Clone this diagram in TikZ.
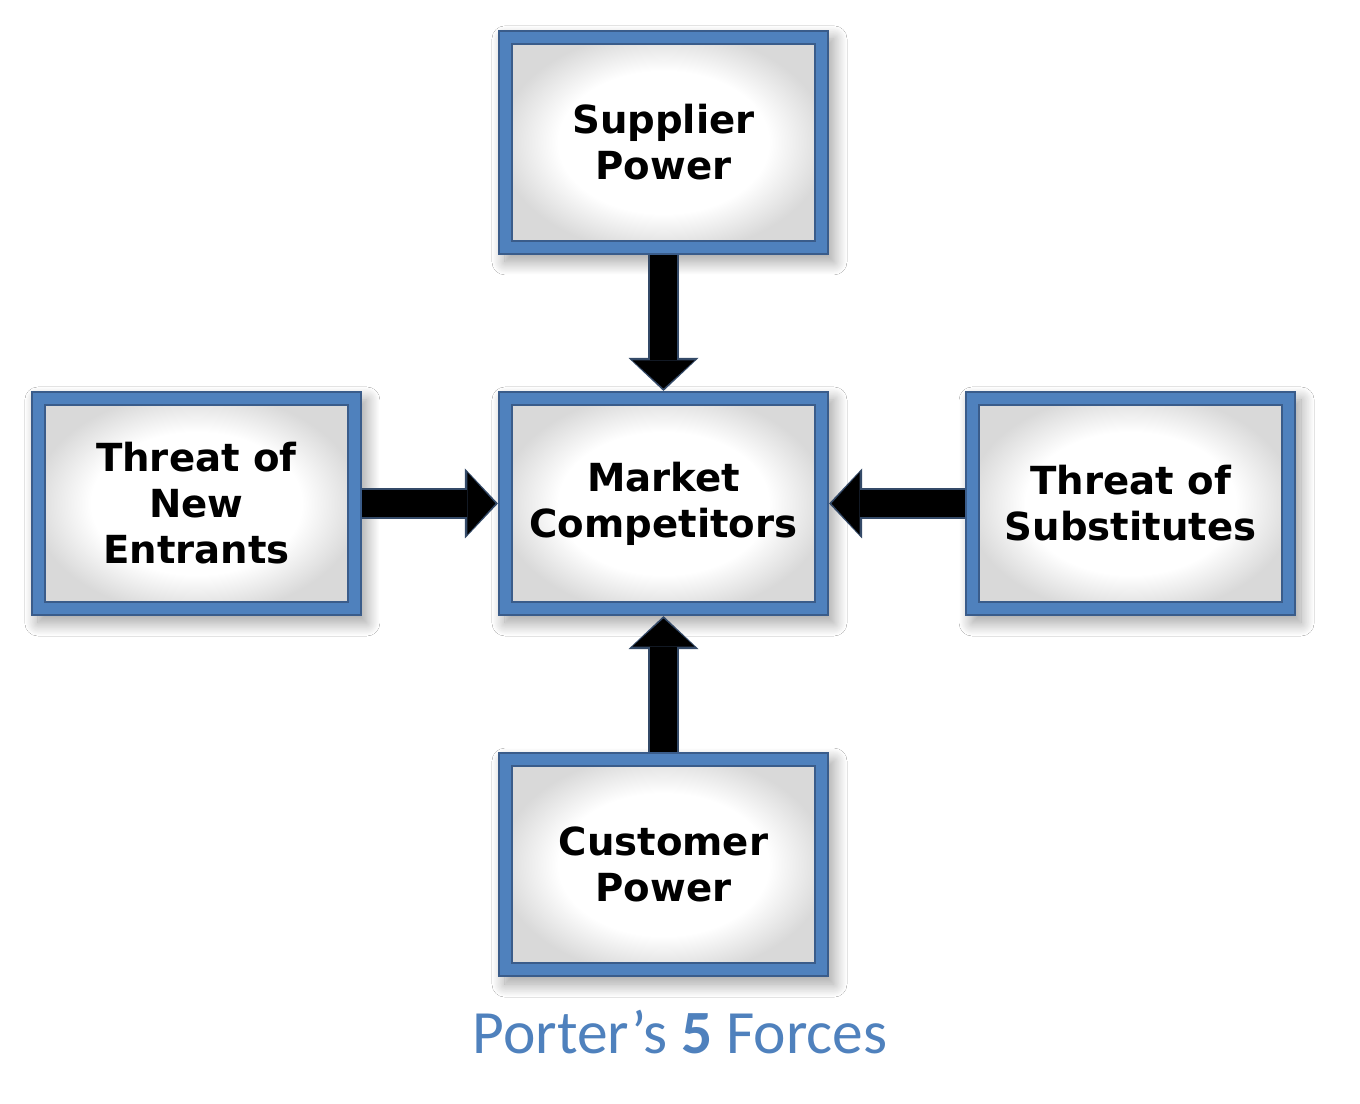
\documentclass[tikz,border=0pt]{standalone}
\usepackage{fontspec}
\setmainfont{DejaVu Sans}
\newfontfamily\titlefont{Carlito}
\usetikzlibrary{arrows.meta, positioning, calc, shadows.blur}
\definecolor{framecolor}{RGB}{79,129,189}
\definecolor{rimcolor}{RGB}{58,92,138}
\definecolor{arrowrimcolor}{RGB}{52,74,104}
\definecolor{titlecolor}{RGB}{79,129,189}
\pgfdeclareradialshading{boxglow}{\pgfpoint{0bp}{0bp}}{%
    color(0bp)=(white); color(16bp)=(white); color(25bp)=(black!15); color(50bp)=(black!15)}

\begin{document}
\begin{tikzpicture}[
    node distance=1.36cm,
    forcebox/.style={rectangle, draw=rimcolor, line width=0.6pt, fill=framecolor,
        minimum width=3.29cm, minimum height=2.23cm, inner sep=0pt,
        align=center, font=\fontsize{11}{13.1}\selectfont\bfseries,
        blur shadow={shadow xshift=0.06cm, shadow yshift=-0.08cm,
            shadow blur radius=0.13cm, shadow blur steps=20, shadow opacity=38},
        path picture={
            \shade[shading=boxglow]
                ($(path picture bounding box.south west)+(0.13cm,0.13cm)$) rectangle
                ($(path picture bounding box.north east)-(0.13cm,0.13cm)$);
            \draw[rimcolor, line width=0.6pt]
                ($(path picture bounding box.south west)+(0.13cm,0.13cm)$) rectangle
                ($(path picture bounding box.north east)-(0.13cm,0.13cm)$);
        }},
    arrowrim/.style={line width=0.31cm, arrowrimcolor,
        -{Triangle[length=0.33cm, width=0.70cm, line width=0pt]}},
    arrowcore/.style={line width=0.27cm, black, shorten >=0.025cm,
        -{Triangle[length=0.28cm, width=0.62cm, line width=0pt]}},
]

% === CANVAS ===
\fill[white] (-6.635,-5.995) rectangle (6.965,5.035);
\useasboundingbox (-6.635,-5.995) rectangle (6.965,5.035);

% === FORCES ===
\node[forcebox] (market) at (0,0) {Market\\Competitors};
\node[forcebox, above=of market] (supplier) {Supplier\\Power};
\node[forcebox, left=of market] (entrants) {Threat of\\New\\Entrants};
\node[forcebox, right=of market] (substitutes) {Threat of\\Substitutes};
\node[forcebox, below=of market] (customer) {Customer\\Power};

% === ARROWS ===
\draw[arrowrim] (supplier) -- (market);
\draw[arrowcore] (supplier) -- (market);
\draw[arrowrim] (entrants) -- (market);
\draw[arrowcore] (entrants) -- (market);
\draw[arrowrim] (substitutes) -- (market);
\draw[arrowcore] (substitutes) -- (market);
\draw[arrowrim] (customer) -- (market);
\draw[arrowcore] (customer) -- (market);

% === TITLE ===
\node[font=\titlefont\fontsize{17.5}{21}\selectfont, text=titlecolor, anchor=base]
    (title) at (0.165,-5.5) {Porter’s \textbf{5} Forces};

\end{tikzpicture}
\end{document}
